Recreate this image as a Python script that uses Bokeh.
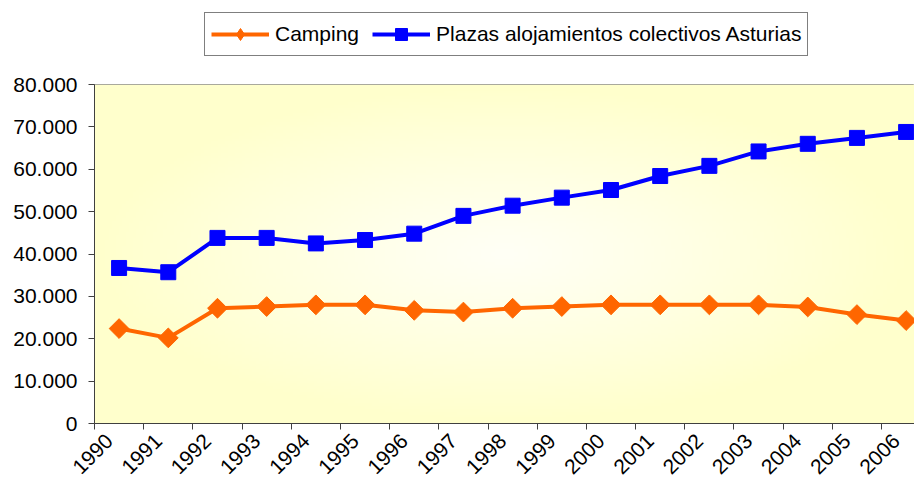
import numpy as np
from bokeh.plotting import figure
from bokeh.layouts import column
from bokeh.models import (Range1d, FixedTicker, CustomJSTickFormatter, Legend, LegendItem)
from bokeh.embed import file_html
from bokeh.resources import INLINE

years = ["1990", "1991", "1992", "1993", "1994", "1995", "1996", "1997", "1998",
         "1999", "2000", "2001", "2002", "2003", "2004", "2005", "2006"]
camping = [22400, 20200, 27200, 27600, 28000, 28000, 26700, 26300, 27200,
           27600, 28000, 28000, 28000, 28000, 27500, 25700, 24300]
plazas = [36700, 35700, 43800, 43800, 42500, 43300, 44800, 49000, 51400,
          53300, 55100, 58400, 60800, 64200, 66000, 67400, 68800]
y_ticks = [0, 10000, 20000, 30000, 40000, 50000, 60000, 70000, 80000]
series_names = ["Camping", "Plazas alojamientos colectivos Asturias"]

FONT = "Liberation Sans"
ORANGE = "#FF6600"
BLUE = "#0000FF"
xs = list(range(len(years)))
x_end = 16.17

p = figure(width=914, height=409, output_backend="svg", toolbar_location=None,
           x_range=Range1d(-0.5, x_end), y_range=Range1d(0, 80000),
           min_border_left=94, min_border_right=0, min_border_top=10, min_border_bottom=59)
p.background_fill_color = "white"
p.border_fill_color = "white"
p.outline_line_color = "#8c8c8c"
p.outline_line_width = 1
p.grid.visible = False

# gradient background (decorative)
ny, nx = 120, 240
gx = np.linspace(-1, 1, nx)
gy = np.linspace(-1, 1, ny)
GX, GY = np.meshgrid(gx, gy)
t = np.clip(np.sqrt(GX**2 + GY**2) / 1.0, 0, 1) ** 1.1
center = np.array([255, 255, 246])
edge = np.array([255, 255, 204])
img = np.zeros((ny, nx), dtype=np.uint32)
view = img.view(dtype=np.uint8).reshape((ny, nx, 4))
for c in range(3):
    view[:, :, c] = (center[c] + (edge[c] - center[c]) * t).astype(np.uint8)
view[:, :, 3] = 255
p.image_rgba(image=[img], x=-0.5, y=0, dw=x_end + 0.5, dh=80000)

p.line(xs, camping, line_color=ORANGE, line_width=4)
p.scatter(xs, camping, marker="square", angle=np.pi / 4, size=14,
          fill_color=ORANGE, line_color=ORANGE)
p.line(xs, plazas, line_color=BLUE, line_width=4)
p.scatter(xs, plazas, marker="square", size=15, fill_color=BLUE, line_color=BLUE)

# x axis: labels near category centers, ticks between categories
label_pos = [round(i - 0.2, 2) for i in xs]
xa = p.xaxis[0]
xa.ticker = FixedTicker(ticks=label_pos,
                        minor_ticks=[i - 0.5 for i in range(len(years) + 1)])
xa.major_label_overrides = {lp: y for lp, y in zip(label_pos, years)}
xa.major_tick_out = 0
xa.major_tick_in = 0
xa.minor_tick_out = 6
xa.minor_tick_in = 0
xa.minor_tick_line_color = "#404040"
xa.axis_line_color = "#404040"
xa.major_label_orientation = np.pi / 4
xa.major_label_standoff = 8
xa.major_label_text_font = FONT
xa.major_label_text_font_size = "21px"
xa.major_label_text_color = "black"

ya = p.yaxis[0]
ya.ticker = FixedTicker(ticks=y_ticks)
ya.formatter = CustomJSTickFormatter(code="""
return Math.round(tick).toString().replace(/\\B(?=(\\d{3})+(?!\\d))/g, ".");
""")
ya.major_tick_out = 6
ya.major_tick_in = 0
ya.minor_tick_out = 0
ya.minor_tick_in = 0
ya.major_tick_line_color = "#404040"
ya.axis_line_color = "#404040"
ya.major_label_standoff = 11
ya.major_label_text_font = FONT
ya.major_label_text_font_size = "21px"
ya.major_label_text_color = "black"

# legend strip (separate figure above the chart; its glyphs lie outside its view)
lg = figure(width=914, height=74, output_backend="svg", toolbar_location=None,
            x_range=Range1d(1000, 1001), y_range=Range1d(1000, 1001),
            min_border=0, outline_line_color=None)
lg.axis.visible = False
lg.grid.visible = False
ll1 = lg.line(xs, camping, line_color=ORANGE, line_width=4)
ls1 = lg.scatter(xs, camping, marker="diamond", size=14, fill_color=ORANGE, line_color=ORANGE)
ll2 = lg.line(xs, plazas, line_color=BLUE, line_width=4)
ls2 = lg.scatter(xs, plazas, marker="square", size=15, fill_color=BLUE, line_color=BLUE)

legend = Legend(items=[LegendItem(label=series_names[0], renderers=[ll1, ls1]),
                       LegendItem(label=series_names[1], renderers=[ll2, ls2])],
                orientation="horizontal", location=(110, 18))
legend.border_line_color = "black"
legend.border_line_width = 1
legend.background_fill_color = "white"
legend.background_fill_alpha = 1
legend.padding = 6
legend.spacing = 13
legend.margin = 0
legend.glyph_width = 58
legend.glyph_height = 30
legend.label_standoff = 6
legend.label_text_font = FONT
legend.label_text_font_size = "21px"
legend.label_text_color = "black"
lg.add_layout(legend, "center")

layout = column(lg, p, spacing=0)
open("out.html", "w").write(file_html(layout, INLINE))
